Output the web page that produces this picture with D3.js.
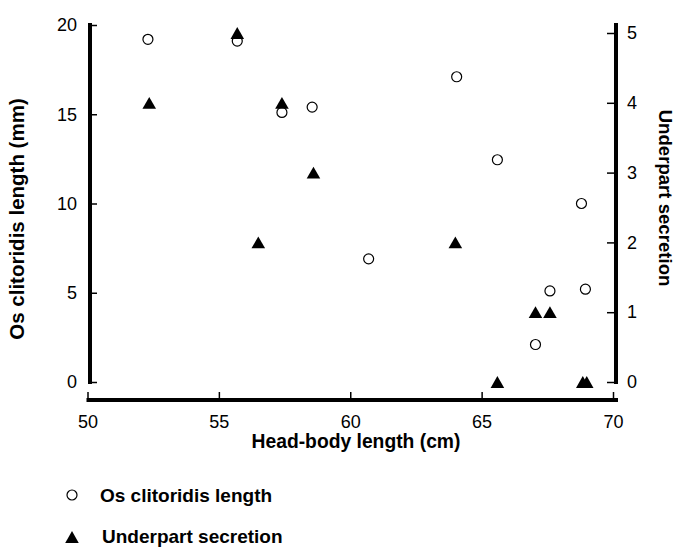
<!DOCTYPE html>
<html>
<head>
<meta charset="utf-8">
<script src="https://cdn.jsdelivr.net/npm/d3@7"></script>
<style>
  html, body { margin: 0; padding: 0; background: #fff; }
  svg { display: block; font-family: Arial, "Liberation Sans", Helvetica, sans-serif; }
</style>
</head>
<body>
<svg id="chart" width="677" height="548"></svg>
<script>
// Head-body length (cm)
const osX = [52.3, 55.7, 57.4, 58.55, 60.7, 64.05, 65.6, 67.05, 67.6, 68.8, 68.95];
// Os clitoridis length (mm)
const osY = [19.2, 19.1, 15.1, 15.4, 6.9, 17.1, 12.45, 2.1, 5.1, 10.0, 5.2];
// Head-body length (cm)
const secX = [52.35, 55.7, 56.5, 57.4, 58.6, 64.0, 65.6, 67.05, 67.6, 68.85, 69.0];
// Underpart secretion score
const secY = [4, 5, 2, 4, 3, 2, 0, 1, 1, 0, 0];

const xTicks = [50, 55, 60, 65, 70];
const yLeftTicks = [0, 5, 10, 15, 20];
const yRightTicks = [0, 1, 2, 3, 4, 5];

const svg = d3.select("#chart");

const x = d3.scaleLinear().domain([50, 70]).range([87.5, 613]);
const yL = d3.scaleLinear().domain([0, 20]).range([382, 25]);
const yR = d3.scaleLinear().domain([0, 5]).range([382, 33]);

const fontSize = 18;
const fmt = d3.format("d");

// Left axis
const gL = svg.append("g").attr("transform", "translate(90,0)")
  .call(d3.axisLeft(yL).tickValues(yLeftTicks).tickFormat(fmt).tickSize(-7).tickSizeOuter(0).tickPadding(13));
// Right axis
const gR = svg.append("g").attr("transform", "translate(616,0)")
  .call(d3.axisRight(yR).tickValues(yRightTicks).tickFormat(fmt).tickSize(-9).tickSizeOuter(0).tickPadding(11));
// Bottom axis
const gB = svg.append("g").attr("transform", "translate(0,400)")
  .call(d3.axisBottom(x).tickValues(xTicks).tickFormat(fmt).tickSize(-8).tickSizeOuter(0).tickPadding(15));

[gL, gR, gB].forEach(g => {
  g.select(".domain").remove();
  g.selectAll(".tick line").attr("stroke", "#000").attr("stroke-width", 1.5);
  g.selectAll(".tick text").attr("fill", "#000").style("font-size", fontSize + "px")
    .style("font-family", "Arial, 'Liberation Sans', Helvetica, sans-serif");
});

// Thick axis lines
const axisLines = svg.append("g").attr("stroke", "#000").attr("stroke-width", 4);
axisLines.append("line").attr("x1", 90).attr("x2", 90).attr("y1", 23).attr("y2", 384);
axisLines.append("line").attr("x1", 616).attr("x2", 616).attr("y1", 23).attr("y2", 384);
axisLines.append("line").attr("x1", x(50) - 1).attr("x2", x(70) + 5).attr("y1", 400).attr("y2", 400);

// Axis titles
svg.append("text")
  .attr("transform", "translate(24,219) rotate(-90)")
  .attr("text-anchor", "middle")
  .style("font-weight", "bold").style("font-size", "20.5px")
  .text("Os clitoridis length (mm)");

svg.append("text")
  .attr("transform", "translate(659,198) rotate(90)")
  .attr("text-anchor", "middle")
  .style("font-weight", "bold").style("font-size", "18.6px")
  .text("Underpart secretion");

svg.append("text")
  .attr("x", 356).attr("y", 448)
  .attr("text-anchor", "middle")
  .style("font-weight", "bold").style("font-size", "19.3px")
  .text("Head-body length (cm)");

// Points
const osData = osX.map((v, i) => ({ x: v, y: osY[i] }));
const secData = secX.map((v, i) => ({ x: v, y: secY[i] }));

svg.append("g").selectAll("circle").data(osData).join("circle")
  .attr("cx", d => x(d.x)).attr("cy", d => yL(d.y)).attr("r", 5)
  .attr("fill", "#fff").attr("stroke", "#000").attr("stroke-width", 1.2);

// triangle centred on its bounding box
const boxTriangle = {
  draw(context, size) {
    const s = Math.sqrt(size * 4 / Math.sqrt(3)); // side
    const h = s * Math.sqrt(3) / 2;
    context.moveTo(0, -h / 2);
    context.lineTo(s / 2, h / 2);
    context.lineTo(-s / 2, h / 2);
    context.closePath();
  }
};
const tri = d3.symbol().type(boxTriangle).size(80);
svg.append("g").selectAll("path").data(secData).join("path")
  .attr("d", tri)
  .attr("transform", d => `translate(${x(d.x)},${yR(d.y)})`)
  .attr("fill", "#000");

// Legend
const leg = svg.append("g");
leg.append("circle").attr("cx", 72).attr("cy", 495).attr("r", 5)
  .attr("fill", "#fff").attr("stroke", "#000").attr("stroke-width", 1.2);
leg.append("text").attr("x", 100).attr("y", 502)
  .style("font-weight", "bold").style("font-size", "19px")
  .text("Os clitoridis length");
leg.append("path").attr("d", tri).attr("transform", "translate(72,537)").attr("fill", "#000");
leg.append("text").attr("x", 102).attr("y", 543)
  .style("font-weight", "bold").style("font-size", "19px")
  .text("Underpart secretion");
</script>
</body>
</html>
